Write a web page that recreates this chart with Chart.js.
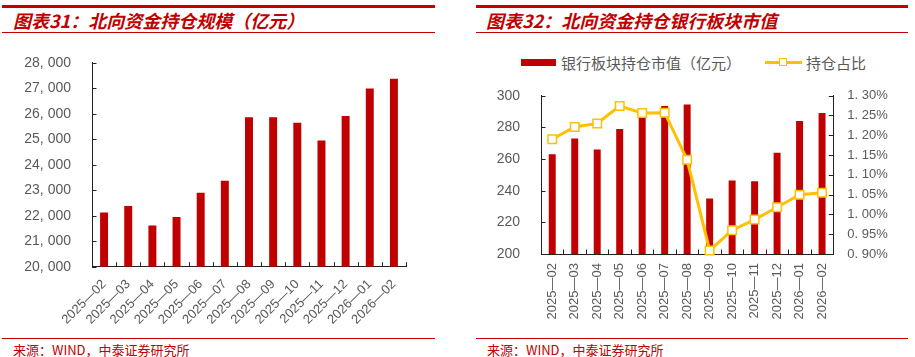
<!DOCTYPE html>
<html><head><meta charset="utf-8">
<script src="https://cdn.jsdelivr.net/npm/chart.js@4"></script>
<style>
body{margin:0;width:915px;height:357px;background:#fff;position:relative;overflow:hidden;font-family:"Noto Sans CJK SC",sans-serif}
.abs{position:absolute}
.thick{height:2.5px;background:#C00000}
.thin{height:1px;background:#C00000}
.title{font-size:18px;font-weight:bold;font-style:italic;color:#C00000;line-height:18px;white-space:nowrap}
.src{font-size:13px;color:#C00000;line-height:13px;white-space:nowrap}
.leg{font-size:15px;color:#595959;line-height:15px;white-space:nowrap}
</style></head>
<body>
<div class="abs thick" style="left:2px;top:5px;width:433px"></div>
<div class="abs thin" style="left:2px;top:32px;width:433px"></div>
<div class="abs title" style="left:13px;top:11px">图表31：北向资金持仓规模（亿元）</div>
<div class="abs thin" style="left:2px;top:338px;width:433px"></div>
<div class="abs src" style="left:13px;top:342.5px">来源：WIND，中泰证券研究所</div>

<div class="abs thick" style="left:476px;top:5px;width:432px"></div>
<div class="abs thin" style="left:476px;top:32px;width:432px"></div>
<div class="abs title" style="left:486px;top:11px">图表32：北向资金持仓银行板块市值</div>
<div class="abs thin" style="left:476px;top:338px;width:432px"></div>
<div class="abs src" style="left:487px;top:342.5px">来源：WIND，中泰证券研究所</div>

<div class="abs" style="left:521px;top:58.5px;width:35px;height:7px;background:#C00000"></div>
<div class="abs leg" style="left:561px;top:54.5px">银行板块持仓市值（亿元）</div>
<div class="abs" style="left:765px;top:60.5px;width:37px;height:3px;background:#FFC000"></div>
<div class="abs" style="left:779px;top:57.5px;width:6px;height:6px;background:#fff;border:1.5px solid #FFC000"></div>
<div class="abs leg" style="left:806px;top:54.5px">持仓占比</div>

<canvas id="c1" class="abs" style="left:0;top:40px" width="460" height="290"></canvas>
<canvas id="c2" class="abs" style="left:470px;top:80px" width="445" height="250"></canvas>

<script>
const categories = ['2025-02','2025-03','2025-04','2025-05','2025-06','2025-07','2025-08','2025-09','2025-10','2025-11','2025-12','2026-01','2026-02'];
const holdingScale = [22130, 22380, 21620, 21950, 22900, 23370, 25860, 25860, 25650, 24950, 25910, 26990, 27370];
const bankValue = [263, 273, 266, 279, 287, 293.5, 294.5, 235, 246.5, 246, 264, 284, 289];
const bankShare = [1.190, 1.221, 1.230, 1.274, 1.256, 1.257, 1.138, 0.909, 0.960, 0.987, 1.018, 1.050, 1.055];
const scaleTicks = [20000, 21000, 22000, 23000, 24000, 25000, 26000, 27000, 28000];
const bankValueTicks = [200, 220, 240, 260, 280, 300];
const bankShareTicks = [0.90, 0.95, 1.00, 1.05, 1.10, 1.15, 1.20, 1.25, 1.30];

const AXIS = '#222';
const TXT = '#595959';
const RED = '#C00000';
const GOLD = '#FFC000';

const innerTicks = {
  id: 'innerTicks',
  afterDraw(chart) {
    const ctx = chart.ctx, a = chart.chartArea, len = 4.5;
    ctx.save();
    ctx.strokeStyle = AXIS; ctx.lineWidth = 1;
    Object.values(chart.scales).forEach(s => {
      ctx.beginPath();
      if (s.axis === 'x') {
        for (let i = 0; i <= s.ticks.length; i++) {
          const x = Math.round(s.getPixelForValue(i - 0.5)) + 0.5;
          ctx.moveTo(x, a.bottom); ctx.lineTo(x, a.bottom - len);
        }
      } else {
        const left = s.position === 'left';
        const x0 = left ? a.left : a.right;
        s.ticks.forEach((t, i) => {
          const y = Math.round(s.getPixelForTick(i)) + 0.5;
          ctx.moveTo(x0, y); ctx.lineTo(x0 + (left ? len : -len), y);
        });
      }
      ctx.stroke();
    });
    ctx.restore();
  }
};

function fixedTicks(arr) {
  return s => { s.ticks = arr.map(v => ({value: v})); };
}
function fitY(w) {
  return s => { s.width = w; s.paddingTop = 0; s.paddingBottom = 0; };
}
const dash = (v, i) => categories[i].replace('-', '—');
const gridOff = {display: true, drawOnChartArea: false, drawTicks: false};
const border = {display: true, color: AXIS, width: 1};

new Chart(document.getElementById('c1'), {
  type: 'bar',
  data: {labels: categories, datasets: [{data: holdingScale, backgroundColor: RED, categoryPercentage: 1, barPercentage: 0.33}]},
  options: {
    responsive: false, animation: false,
    layout: {padding: {top: 22.7, right: 54, left: 0, bottom: 0}},
    plugins: {legend: {display: false}, tooltip: {enabled: false}},
    scales: {
      x: {grid: gridOff, border,
          ticks: {autoSkip: false, minRotation: 45, maxRotation: 45, color: TXT, font: {family: 'Liberation Sans', size: 13}, padding: 10, callback: dash},
          afterFit: s => { s.height = 63.3; s.paddingLeft = 0; s.paddingRight = 0; }},
      y: {min: scaleTicks[0], max: scaleTicks[scaleTicks.length - 1], grid: gridOff, border,
          afterBuildTicks: fixedTicks(scaleTicks),
          ticks: {color: TXT, font: {family: 'Liberation Sans', size: 14}, padding: 21,
                  callback: v => v.toLocaleString('en-US').replace(',', ', ')},
          afterFit: fitY(92)}
    }
  },
  plugins: [innerTicks]
});

new Chart(document.getElementById('c2'), {
  type: 'bar',
  data: {labels: categories, datasets: [
    {type: 'line', data: bankShare, yAxisID: 'y1', order: 0, borderColor: GOLD, borderWidth: 3, tension: 0,
     pointStyle: 'rect', pointRadius: 6, pointBackgroundColor: '#fff', pointBorderColor: GOLD, pointBorderWidth: 1.5, clip: false},
    {type: 'bar', data: bankValue, yAxisID: 'y', order: 1, backgroundColor: RED, categoryPercentage: 1, barPercentage: 0.31}
  ]},
  options: {
    responsive: false, animation: false,
    layout: {padding: {top: 15.7, right: 0, left: 0, bottom: 0}},
    plugins: {legend: {display: false}, tooltip: {enabled: false}},
    scales: {
      x: {grid: gridOff, border,
          ticks: {autoSkip: false, minRotation: 90, maxRotation: 90, color: TXT, font: {family: 'Liberation Sans', size: 13}, padding: 9, callback: dash},
          afterFit: s => { s.height = 76; s.paddingLeft = 0; s.paddingRight = 0; }},
      y: {position: 'left', min: bankValueTicks[0], max: bankValueTicks[bankValueTicks.length - 1], grid: gridOff, border,
          afterBuildTicks: fixedTicks(bankValueTicks),
          ticks: {color: TXT, font: {family: 'Liberation Sans', size: 14}, padding: 21},
          afterFit: fitY(71)},
      y1: {position: 'right', min: bankShareTicks[0], max: bankShareTicks[bankShareTicks.length - 1], grid: gridOff, border,
          afterBuildTicks: fixedTicks(bankShareTicks),
          ticks: {color: TXT, font: {family: 'Liberation Sans', size: 13}, padding: 14,
                  callback: v => v.toFixed(2).replace('.', '. ') + '%'},
          afterFit: fitY(81.7)}
    }
  },
  plugins: [innerTicks]
});
</script>
</body></html>
